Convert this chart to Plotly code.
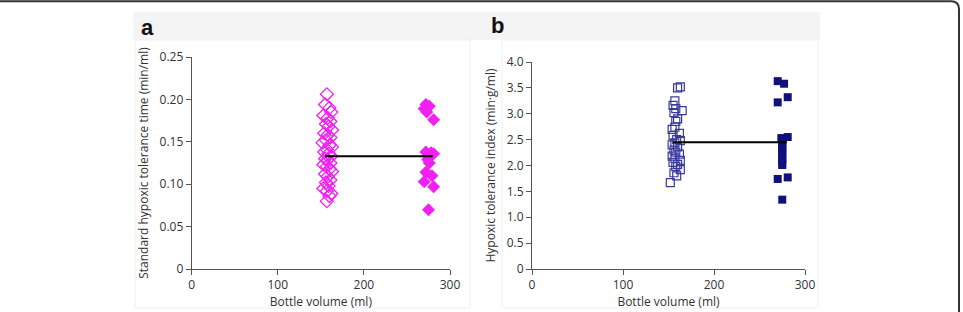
import plotly.graph_objects as go

# ---------------- data ----------------
# Panel a: standard hypoxic tolerance time (min/ml)
a_small_x = [157, 155, 160, 162, 153, 158, 161, 156, 159, 163, 154, 158, 161, 156, 152, 160, 163, 157,
             154, 159, 162, 155, 158, 161, 153, 157, 160, 163, 155, 158, 161, 156, 159, 153, 157, 162, 160, 157]
a_small_y = [0.206, 0.194, 0.190, 0.185, 0.181, 0.178, 0.174, 0.171, 0.168, 0.164, 0.160, 0.158, 0.155,
             0.152, 0.149, 0.146, 0.144, 0.141, 0.138, 0.136, 0.133, 0.130, 0.129, 0.125, 0.123, 0.121,
             0.118, 0.115, 0.112, 0.109, 0.105, 0.102, 0.098, 0.095, 0.092, 0.089, 0.086, 0.080]
a_large_x = [272, 276, 270, 273, 281, 272, 278, 275, 281, 274, 276, 272, 279, 270, 281, 275]
a_large_y = [0.194, 0.192, 0.189, 0.185, 0.176, 0.138, 0.137, 0.133, 0.136, 0.129, 0.125, 0.114,
             0.110, 0.103, 0.097, 0.070]
a_mean = 0.133

# Panel b: hypoxic tolerance index (min·g/ml)
b_small_x = [160, 163, 157, 155, 158, 165, 156, 160, 158, 154, 157, 162, 155, 159, 163, 157, 154, 160,
             156, 158, 162, 154, 157, 163, 155, 160, 158, 163, 156, 159, 152]
b_small_y = [3.50, 3.52, 3.25, 3.16, 3.10, 3.06, 3.02, 2.90, 2.85, 2.70, 2.74, 2.62, 2.58, 2.50, 2.48,
             2.44, 2.40, 2.36, 2.30, 2.26, 2.22, 2.18, 2.14, 2.10, 2.06, 2.02, 1.98, 1.92, 1.86, 1.80, 1.67]
b_large_x = [270, 277, 270, 281, 274, 281, 275, 275, 275, 275, 275, 275, 275, 275, 275, 275, 270, 281, 275]
b_large_y = [3.63, 3.58, 3.22, 3.32, 2.53, 2.55, 2.47, 2.42, 2.37, 2.32, 2.27, 2.22, 2.16, 2.11, 2.05,
             2.01, 1.74, 1.77, 1.34]
b_mean = 2.45

mean_x = [155, 280]

a_yticks = [0, 0.05, 0.10, 0.15, 0.20, 0.25]
a_yticklabels = ["0", "0.05", "0.10", "0.15", "0.20", "0.25"]
b_yticks = [0, 0.5, 1.0, 1.5, 2.0, 2.5, 3.0, 3.5, 4.0]
b_yticklabels = ["0", "0.5", "1.0", "1.5", "2.0", "2.5", "3.0", "3.5", "4.0"]
x_ticks = [0, 100, 200, 300]

a_title_y = "Standard hypoxic tolerance time (min/ml)"
b_title_y = "Hypoxic tolerance index (min·g/ml)"
x_title = "Bottle volume (ml)"

# ---------------- figure ----------------
W, H = 963, 312
MAG = "#f020f0"
NAVY = "#10107a"

fig = go.Figure()

fig.add_trace(go.Scatter(x=a_small_x, y=a_small_y, mode="markers", xaxis="x", yaxis="y",
                         marker=dict(symbol="diamond-open", size=10, color=MAG, line=dict(width=1.3, color=MAG))))
fig.add_trace(go.Scatter(x=a_large_x, y=a_large_y, mode="markers", xaxis="x", yaxis="y",
                         marker=dict(symbol="diamond", size=10, color=MAG)))
fig.add_trace(go.Scatter(x=mean_x, y=[a_mean, a_mean], mode="lines", xaxis="x", yaxis="y",
                         line=dict(color="black", width=2)))

fig.add_trace(go.Scatter(x=b_small_x, y=b_small_y, mode="markers", xaxis="x2", yaxis="y2",
                         marker=dict(symbol="square-open", size=8, color="#3a3a9a", line=dict(width=1.2, color="#3a3a9a"))))
fig.add_trace(go.Scatter(x=b_large_x, y=b_large_y, mode="markers", xaxis="x2", yaxis="y2",
                         marker=dict(symbol="square", size=8, color=NAVY)))
fig.add_trace(go.Scatter(x=mean_x, y=[b_mean, b_mean], mode="lines", xaxis="x2", yaxis="y2",
                         line=dict(color="black", width=2)))

def px(x):
    return x / W

def py(y):
    return 1 - y / H

axis_common = dict(showgrid=False, zeroline=False, showline=True, linecolor="#555", linewidth=1,
                   ticks="outside", ticklen=5, tickcolor="#555", tickwidth=1, automargin=False,
                   tickfont=dict(family="Open Sans", size=12, color="#333"))

fig.update_layout(
    width=W, height=H, margin=dict(l=0, r=0, t=0, b=0, autoexpand=False),
    paper_bgcolor="white", plot_bgcolor="white", showlegend=False,
    font=dict(family="Open Sans", color="#333"),
    xaxis=dict(domain=[px(191.7), px(450)], range=[0, 300], tickvals=x_ticks, anchor="y",
               title=dict(text=x_title, font=dict(size=12, color="#333"), standoff=4), **axis_common),
    yaxis=dict(domain=[py(269), py(57)], range=[0, 0.25], tickvals=a_yticks, ticktext=a_yticklabels, anchor="x",
               title=dict(text=a_title_y, font=dict(size=12, color="#333"), standoff=8), **axis_common),
    xaxis2=dict(domain=[px(532), px(805)], range=[0, 300], tickvals=x_ticks, anchor="y2",
                title=dict(text=x_title, font=dict(size=12, color="#333"), standoff=4), **axis_common),
    yaxis2=dict(domain=[py(269), py(62)], range=[0, 4.0], tickvals=b_yticks, ticktext=b_yticklabels, anchor="x2",
                title=dict(text=b_title_y, font=dict(size=12, color="#333"), standoff=8), **axis_common),
)

shapes = []
# header band
shapes.append(dict(type="rect", xref="paper", yref="paper", x0=px(133), x1=px(820), y0=py(40), y1=py(12),
                   fillcolor="#f4f4f4", line=dict(width=0), layer="below"))
# faint panel boxes
shapes.append(dict(type="rect", xref="paper", yref="paper", x0=px(135), x1=px(470), y0=py(308), y1=py(40),
                   fillcolor="rgba(0,0,0,0)", line=dict(width=1, color="#f0f0f0"), layer="below"))
shapes.append(dict(type="rect", xref="paper", yref="paper", x0=px(502), x1=px(818), y0=py(308), y1=py(40),
                   fillcolor="rgba(0,0,0,0)", line=dict(width=1, color="#f0f0f0"), layer="below"))
# outer frame (top + rounded right corner + right side)
path = (f"M 0,{py(1.2)} L {px(951)},{py(1.2)} Q {px(959)},{py(1.2)} {px(959)},{py(9)} "
        f"L {px(959)},{py(313)}")
shapes.append(dict(type="path", xref="paper", yref="paper", path=path,
                   line=dict(color="#333", width=2)))
fig.update_layout(shapes=shapes)

fig.add_annotation(x=px(139), y=py(27), xref="paper", yref="paper", text="<b>a</b>", showarrow=False,
                   xanchor="left", yanchor="middle", font=dict(family="Liberation Sans", size=22, color="#111"))
fig.add_annotation(x=px(489), y=py(25), xref="paper", yref="paper", text="<b>b</b>", showarrow=False,
                   xanchor="left", yanchor="middle", font=dict(family="Liberation Sans", size=22, color="#111"))

fig.write_html("out.html")
